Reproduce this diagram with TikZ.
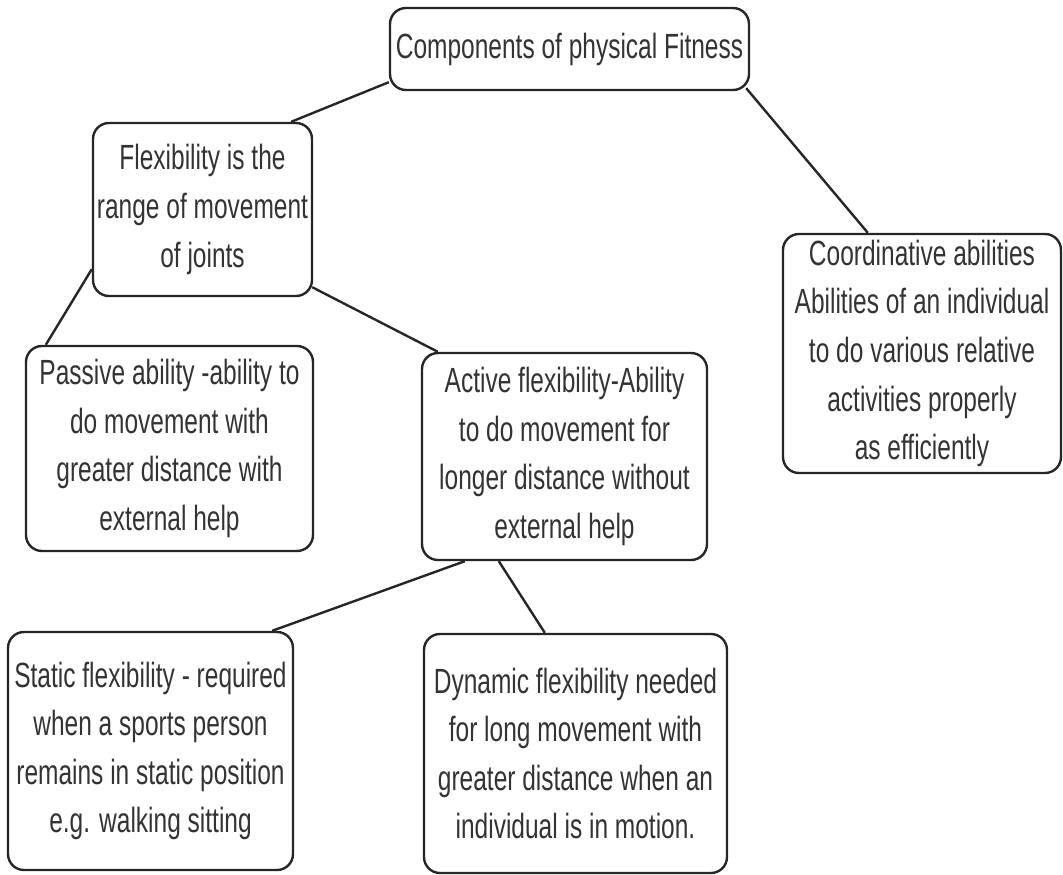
\documentclass[tikz,border=0pt]{standalone}
\usepackage{fontspec}
\setmainfont{Liberation Sans}[FakeStretch=0.7]
\begin{document}
\begin{tikzpicture}[x=1pt,y=-1pt,
    box/.style={draw=black!85,line width=2.4pt,rounded corners=16pt,align=center,
        inner sep=2pt,text=black!80,font=\fontsize{35}{48.6}\selectfont},
    link/.style={draw=black!85,line width=2.4pt}]
            \useasboundingbox (0,0) rectangle (1063,875);
            \node[box,minimum width=359pt,minimum height=82pt] at (569.5,49)(comp){Components of physical Fitness};
            \node[box,minimum width=219pt,minimum height=173pt] at (202.5,209.5)(flex){Flexibility is the\\range of movement\\of joints};
            \node[box,minimum width=278pt,minimum height=239pt] at (922,353.5)(coordAb){Coordinative abilities\\Abilities of an individual\\to do various relative\\activities properly\\as efficiently};
            \node[box,minimum width=287pt,minimum height=205pt] at (169.5,448.5)(passive){Passive ability -ability to\\do movement with\\greater distance with\\external help};
            \node[box,minimum width=285pt,minimum height=207pt] at (564.5,456.5)(active){Active flexibility-Ability\\to do movement for\\longer distance without\\external help};
            \node[box,minimum width=285pt,minimum height=238pt] at (150.5,751)(staticFlex){Static flexibility - required\\when a sports person\\remains in static position\\e.g. walking sitting};
            \node[box,minimum width=303pt,minimum height=239pt] at (575.5,753.5)(dynFlex){Dynamic flexibility needed\\for long movement with\\greater distance when an\\individual is in motion.};
            \path[link] ([yshift=9pt]comp.south west) -- ([xshift=-22pt]flex.north east);
            \path[link] ([xshift=-4pt,yshift=3pt]comp.south east) -- ([xshift=86pt]coordAb.north west);
            \path[link] ([yshift=28pt]flex.south west) -- ([xshift=21pt]passive.north west);
            \path[link] ([xshift=-1pt,yshift=10pt]flex.south east) -- ([xshift=17pt]active.north west);
            \path[link] ([xshift=44pt]active.south west) -- ([xshift=-22pt]staticFlex.north east);
            \path[link] ([xshift=78pt]active.south west) -- ([xshift=122pt]dynFlex.north west);
\end{tikzpicture}
\end{document}
